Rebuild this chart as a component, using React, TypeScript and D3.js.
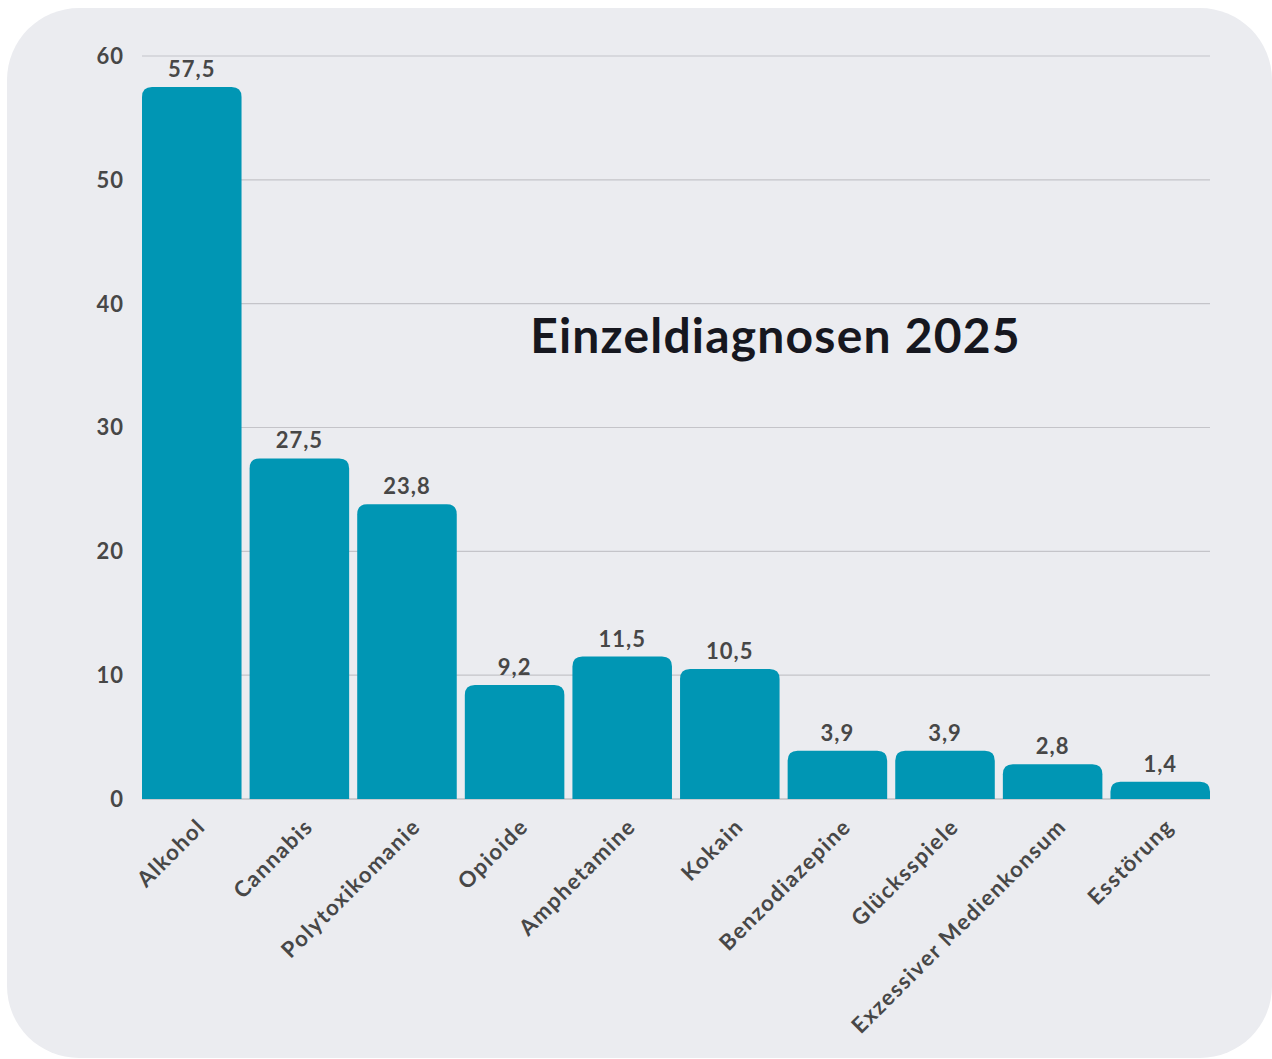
import React from "react";
import * as d3 from "d3";

const categories = ["Alkohol","Cannabis","Polytoxikomanie","Opioide","Amphetamine","Kokain","Benzodiazepine","Glücksspiele","Exzessiver Medienkonsum","Esstörung"];
const values = [57.5, 27.5, 23.8, 9.2, 11.5, 10.5, 3.9, 3.9, 2.8, 1.4];
const yTicks = [0, 10, 20, 30, 40, 50, 60];
const title = "Einzeldiagnosen 2025";

const W = 1272, H = 1059;
const FONT = "Lato, 'Open Sans', sans-serif";
const BAR = "#0096b4";
const TXT = "#474747";

function topRounded(x: number, y: number, w: number, h: number, r: number) {
  const rr = Math.min(r, h, w / 2);
  return `M${x},${y + h}V${y + rr}Q${x},${y} ${x + rr},${y}H${x + w - rr}Q${x + w},${y} ${x + w},${y + rr}V${y + h}Z`;
}

export default function App() {
  const x = d3.scaleBand<string>().domain(categories).range([142, 1210]).paddingInner(0.075).paddingOuter(0.0);
  const y = d3.scaleLinear().domain([0, 60]).range([799, 56]);
  const fmt = (v: number) => v.toFixed(1).replace(".", ",");
  return (
    <svg width={W} height={H} style={{ position: "absolute", left: 0, top: 0 }} fontFamily={FONT}>
      <rect x={0} y={0} width={W} height={H} fill="#ffffff" />
      <rect x={7} y={8} width={1265} height={1050} rx={72} fill="#ebecf0" />
      {yTicks.map(t => (
        <g key={t}>
          <line x1={142} x2={1210} y1={y(t)} y2={y(t)} stroke={t === 0 ? "#a9a9ae" : "#c4c4c9"} strokeWidth={1.2} />
          <text x={124} y={y(t)} dy="0.36em" textAnchor="end" fontSize={22} fontWeight={700} fill={TXT} letterSpacing={1}>{t}</text>
        </g>
      ))}
      {categories.map((c, i) => {
        const bx = x(c)!, bw = x.bandwidth();
        const by = y(values[i]);
        return (
          <g key={c}>
            <path d={topRounded(bx, by, bw, y(0) - by, 10)} fill={BAR} />
            <text x={bx + bw / 2} y={by - 10} textAnchor="middle" fontSize={22} fontWeight={700} fill={TXT} letterSpacing={1}>{fmt(values[i])}</text>
            <text transform={`translate(${bx + bw / 2 + 15},${828}) rotate(-45)`} textAnchor="end" fontSize={22} fontWeight={700} fill={TXT} letterSpacing={1.5}>{c}</text>
          </g>
        );
      })}
      <text x={775.5} y={353} textAnchor="middle" fontSize={48} fontWeight={700} fill="#16171f" letterSpacing={1.2}>{title}</text>
    </svg>
  );
}
